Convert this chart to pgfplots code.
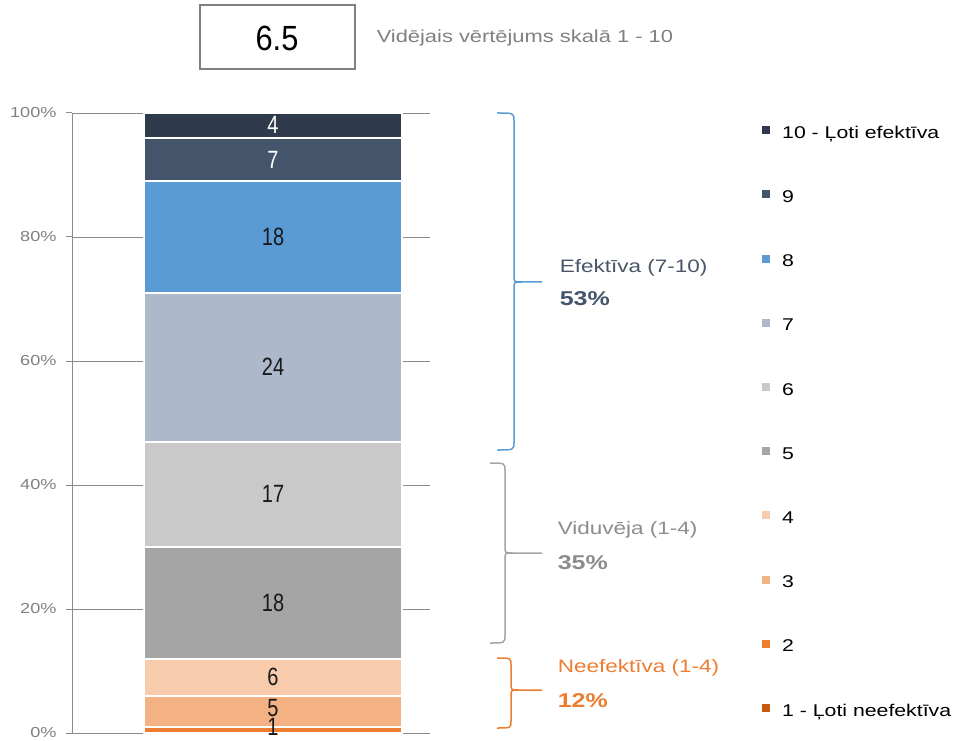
\documentclass[border=0pt]{standalone}
\usepackage{fontspec}
\setmainfont{Liberation Sans}
\newfontfamily\wide[FakeStretch=1.25]{Liberation Sans}
\newfontfamily\narrow[FakeStretch=0.8]{Liberation Sans}
\newfontfamily\boxfont[FakeStretch=0.88]{Liberation Sans}
\usepackage{pgfplots}
\pgfplotsset{compat=1.18}

\definecolor{c10}{HTML}{2F3A4C}
\definecolor{c9}{HTML}{44546A}
\definecolor{c8}{HTML}{5B9BD5}
\definecolor{c7}{HTML}{ADB9CA}
\definecolor{c6}{HTML}{C9C9C9}
\definecolor{c5}{HTML}{A5A5A5}
\definecolor{c4}{HTML}{F8CBAD}
\definecolor{c3}{HTML}{F4B183}
\definecolor{c2}{HTML}{ED7D31}
\definecolor{c1}{HTML}{C55A11}
\definecolor{axgray}{HTML}{8C8C8C}
\definecolor{tickgray}{HTML}{808080}
\definecolor{slate}{HTML}{4A5568}

\begin{document}
\begin{tikzpicture}
\useasboundingbox (0,0) rectangle (955pt,740pt);
\begin{axis}[
  at={(72pt,7pt)}, anchor=south west,
  scale only axis, width=358pt, height=620pt,
  xmin=0, xmax=1, ymin=0, ymax=100,
  ybar stacked, bar width=258pt,
  axis lines=left, axis line style={-, draw=axgray, line width=1pt},
  xtick=\empty, ytick={0,20,...,100},
  yticklabel={\pgfmathprintnumber{\tick}\%},
  tick align=outside, major tick length=6pt,
  ytick style={draw=axgray, line width=1pt},
  ymajorgrids, grid style={draw=axgray, line width=0.8pt},
  /pgf/number format/assume math mode=true,
  yticklabel style={font=\wide\fontsize{14.5}{14.5}\selectfont, text=tickgray, xshift=-6pt},
  every axis plot/.append style={draw=white, line width=2pt},
  reverse legend,
  legend style={at={(1.9274,0.979)}, anchor=north west, draw=none, fill=none,
    inner sep=0pt, row sep=50.2pt,
    font=\wide\fontsize{17}{17}\selectfont,
    nodes={inner sep=0pt, text height=12pt, text depth=2pt}},
  legend image code/.code={\path[#1,draw=none] (0pt,-1pt) rectangle (8pt,7pt);},
  legend cell align=left,
]
\addplot[fill=c1, draw=none] coordinates {(0.5615,0)};
\addlegendentry{\hspace{12pt}1 - Ļoti neefektīva}
\addplot[fill=c2] coordinates {(0.5615,1)};
\addlegendentry{\hspace{12pt}2}
\addplot[fill=c3] coordinates {(0.5615,5)};
\addlegendentry{\hspace{12pt}3}
\addplot[fill=c4] coordinates {(0.5615,6)};
\addlegendentry{\hspace{12pt}4}
\addplot[fill=c5] coordinates {(0.5615,18)};
\addlegendentry{\hspace{12pt}5}
\addplot[fill=c6] coordinates {(0.5615,17)};
\addlegendentry{\hspace{12pt}6}
\addplot[fill=c7] coordinates {(0.5615,24)};
\addlegendentry{\hspace{12pt}7}
\addplot[fill=c8] coordinates {(0.5615,18)};
\addlegendentry{\hspace{12pt}8}
\addplot[fill=c9] coordinates {(0.5615,7)};
\addlegendentry{\hspace{12pt}9}
\addplot[fill=c10] coordinates {(0.5615,4)};
\addlegendentry{\hspace{12pt}10 - Ļoti efektīva}

% segment centres, labelled after the axis so the text sits above the bars
\coordinate (s2) at (axis cs:0.5615,1.0);
\coordinate (s3) at (axis cs:0.5615,4.0);
\coordinate (s4) at (axis cs:0.5615,9);
\coordinate (s5) at (axis cs:0.5615,21);
\coordinate (s6) at (axis cs:0.5615,38.5);
\coordinate (s7) at (axis cs:0.5615,59);
\coordinate (s8) at (axis cs:0.5615,80);
\coordinate (s9) at (axis cs:0.5615,92.5);
\coordinate (s10) at (axis cs:0.5615,98);
\end{axis}

\tikzset{lab/.style={font=\narrow\fontsize{25}{25}\selectfont, text=black!90, inner sep=0pt}}
\node[lab] at (s2) {1};
\node[lab] at (s3) {5};
\node[lab] at (s4) {6};
\node[lab] at (s5) {18};
\node[lab] at (s6) {17};
\node[lab] at (s7) {24};
\node[lab] at (s8) {18};
\node[lab, text=white] at (s9) {7};
\node[lab, text=white] at (s10) {4};

\begin{scope}[x=1pt, y=-1pt, yshift=740pt, line width=1.5pt]
  % box with the mean score
  \draw[tickgray, line width=2.5pt] (200,5) rectangle (355,69);
  \node[font=\boxfont\fontsize{35}{35}\selectfont] at (277,38) {6.5};
  \node[anchor=west, inner sep=0pt, text=tickgray, font=\wide\fontsize{17.5}{17.5}\selectfont] at (376,38) {Vidējais vērtējums skalā 1 - 10};
  % brackets
  \draw[c8] (497,113) .. controls (514,113) .. (514,121) -- (514,276) .. controls (514,282) .. (522,282) -- (542,282);
  \draw[c8] (522,282) .. controls (514,282) .. (514,288) -- (514,442) .. controls (514,450) .. (497,450);
  \draw[c5] (490,463) .. controls (505,463) .. (505,471) -- (505,547) .. controls (505,553) .. (513,553) -- (542,553);
  \draw[c5] (513,553) .. controls (505,553) .. (505,559) -- (505,635) .. controls (505,643) .. (490,643);
  \draw[c2] (497,658) .. controls (511,658) .. (511,665) -- (511,684) .. controls (511,690) .. (519,690) -- (542,690);
  \draw[c2] (519,690) .. controls (511,690) .. (511,696) -- (511,721) .. controls (511,728) .. (497,728);
  % group labels
  \node[anchor=west, inner sep=0pt, text=slate, font=\wide\fontsize{18}{18}\selectfont] at (559,268) {Efektīva (7-10)};
  \node[anchor=west, inner sep=0pt, text=c9, font=\wide\bfseries\fontsize{20}{20}\selectfont] at (559,299) {53\%};
  \node[anchor=west, inner sep=0pt, text=axgray, font=\wide\fontsize{18}{18}\selectfont] at (557,530) {Viduvēja (1-4)};
  \node[anchor=west, inner sep=0pt, text=axgray, font=\wide\bfseries\fontsize{20}{20}\selectfont] at (557,563) {35\%};
  \node[anchor=west, inner sep=0pt, text=c2, font=\wide\fontsize{18}{18}\selectfont] at (557,668) {Neefektīva (1-4)};
  \node[anchor=west, inner sep=0pt, text=c2, font=\wide\bfseries\fontsize{20}{20}\selectfont] at (557,701) {12\%};
\end{scope}
\end{tikzpicture}
\end{document}
